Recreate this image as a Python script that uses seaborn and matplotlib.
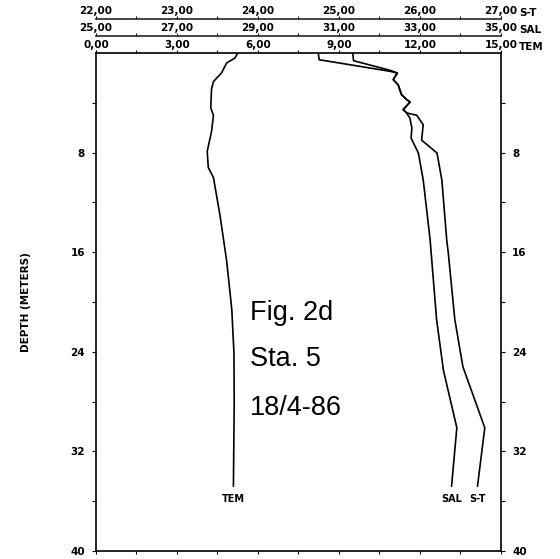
import matplotlib
matplotlib.use('Agg')
import matplotlib.pyplot as plt
import seaborn as sns
import numpy as np

# profile data (depth in metres)
tem_depth = [0, 0.4, 0.8, 1.6, 2.3, 2.9, 4.4, 5.0, 6.3, 7.9, 9.2, 10.0, 13.0, 16.7, 20.6, 24.1, 28.1, 34.8]
tem = [5.25, 5.15, 4.84, 4.65, 4.35, 4.28, 4.25, 4.35, 4.28, 4.12, 4.16, 4.35, 4.59, 4.84, 5.03, 5.11, 5.12, 5.09]

sal_depth = [0, 0.54, 1.47, 1.61, 2.14, 2.55, 3.35, 3.75, 3.94, 4.55, 4.82, 5.22, 6.02, 6.83, 8.03, 10.2,
             15.0, 16.6, 21.4, 25.5, 30.1, 34.8]
sal = [30.49, 30.51, 32.26, 32.44, 32.34, 32.46, 32.55, 32.67, 32.75, 32.59, 32.67, 32.75, 32.80, 32.78,
       32.96, 33.08, 33.25, 33.29, 33.41, 33.58, 33.91, 33.78]

st_depth = [0, 0.62, 1.39, 1.61, 2.14, 2.55, 3.35, 3.75, 3.94, 4.55, 4.82, 5.0, 5.76, 7.0, 8.03, 10.2,
            15.0, 16.1, 21.4, 25.2, 30.1, 34.8]
st = [25.17, 25.18, 25.63, 25.72, 25.67, 25.73, 25.77, 25.84, 25.88, 25.79, 25.84, 25.96, 26.04, 26.02,
      26.21, 26.27, 26.33, 26.35, 26.43, 26.53, 26.80, 26.71]

tem_ticks = [0, 3, 6, 9, 12, 15]
sal_ticks = [25, 27, 29, 31, 33, 35]
st_ticks = [22, 23, 24, 25, 26, 27]
depth_ticks = [8, 16, 24, 32, 40]

sns.set_style('ticks')
plt.rcParams['font.family'] = ['DejaVu Sans']
plt.rcParams.update({'text.color': 'black', 'axes.labelcolor': 'black',
                     'xtick.color': 'black', 'ytick.color': 'black'})

fig = plt.figure(figsize=(5.6, 5.59), dpi=100)
ax = fig.add_axes([0.1714, 0.0143, 0.7232, 0.8909])

# twin axes first (twiny resets the main axis ticks to bottom)
ax_sal = ax.twiny()
ax_st = ax.twiny()

lw = 1.2
sns.lineplot(x=tem, y=tem_depth, sort=False, estimator=None, color='black', lw=lw, ax=ax)
sns.lineplot(x=sal, y=sal_depth, sort=False, estimator=None, color='black', lw=lw, ax=ax_sal)
sns.lineplot(x=st, y=st_depth, sort=False, estimator=None, color='black', lw=lw, ax=ax_st)

ax.set_ylim(40, 0)
ax.set_xlim(tem_ticks[0], tem_ticks[-1])
ax_sal.set_xlim(sal_ticks[0], sal_ticks[-1])
ax_st.set_xlim(st_ticks[0], st_ticks[-1])

tick_font = dict(fontsize=7.5, fontweight='bold')

def fmt(v):
    return f'{v},00'

# main (TEM) axis
ax.set_xticks(tem_ticks)
ax.set_xticklabels([fmt(v) for v in tem_ticks], **tick_font)
ax.set_xticks(np.arange(1.5, 15, 3), minor=True)
ax.tick_params(axis='x', which='both', top=True, bottom=True, labeltop=True, labelbottom=False,
               direction='out', length=2, width=0.8, pad=0)
ax.set_yticks(depth_ticks)
ax.set_yticklabels([str(v) for v in depth_ticks], **tick_font)
ax.set_yticks(np.arange(4, 40, 8), minor=True)
ax.tick_params(axis='y', which='both', left=True, right=True, labelleft=True, labelright=True,
               direction='out', length=3, width=0.8, pad=5)
for s in ax.spines.values():
    s.set_linewidth(1.2)
    s.set_color('black')
ax.set_xlabel('')
ax.set_ylabel('DEPTH (METERS)', fontsize=7.5, fontweight='bold', labelpad=28)

# stacked upper axes
for tw, ticks, minor, off in [(ax_sal, sal_ticks, np.arange(26, 35, 2), 1 + 17 / 498),
                              (ax_st, st_ticks, np.arange(22.5, 27, 1), 1 + 34 / 498)]:
    for name, s in tw.spines.items():
        s.set_visible(name == 'top')
    tw.spines['top'].set_position(('axes', off))
    tw.spines['top'].set_linewidth(1.2)
    tw.set_xticks(ticks)
    tw.set_xticklabels([fmt(v) for v in ticks], **tick_font)
    tw.set_xticks(minor, minor=True)
    tw.tick_params(axis='x', which='both', direction='out', length=2, width=0.8, pad=0)
    tw.set_xlabel('')
    tw.set_ylabel('')

# row labels on the right of the upper axes
row = dict(fontsize=7.5, fontweight='bold', va='center')
fig.text(519 / 560, 1 - 13 / 559, 'S-T', **row)
fig.text(519 / 560, 1 - 30 / 559, 'SAL', **row)
fig.text(519 / 560, 1 - 47 / 559, 'TEM', **row)

# curve labels at the lower ends
lab = dict(fontsize=7, fontweight='bold', ha='center', va='top')
ax.text(tem[-1], tem_depth[-1] + 0.6, 'TEM', **lab)
ax_sal.text(sal[-1], sal_depth[-1] + 0.6, 'SAL', **lab)
ax_st.text(st[-1], st_depth[-1] + 0.6, 'S-T', **lab)

# figure caption inside the plot
cap = dict(fontsize=19.5, family=['Liberation Sans', 'DejaVu Sans'], va='baseline', ha='left')
fig.text(250 / 560, 1 - 320 / 559, 'Fig. 2d', **cap)
fig.text(250 / 560, 1 - 366 / 559, 'Sta. 5', **cap)
fig.text(250 / 560, 1 - 415 / 559, '18/4-86', **cap)

fig.savefig('out.png', dpi=100, facecolor='white')
